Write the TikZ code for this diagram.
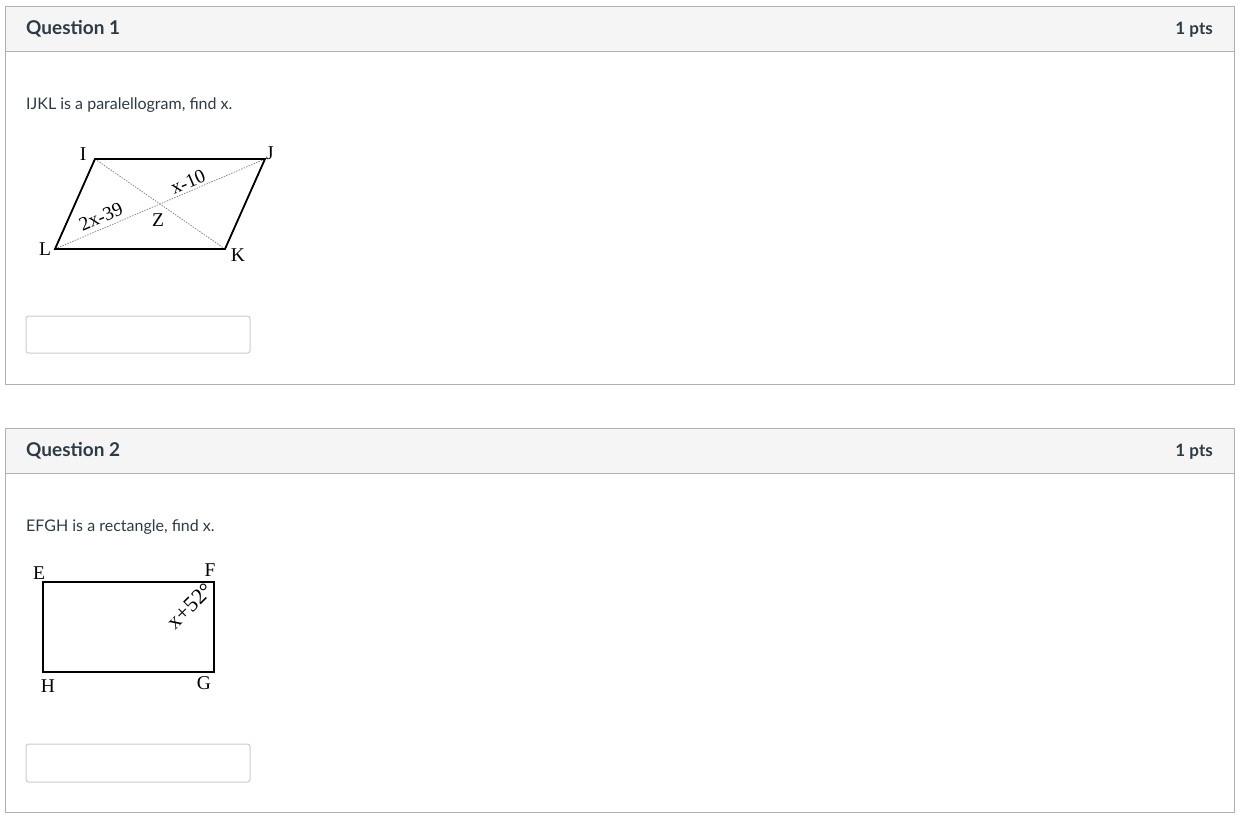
\documentclass[tikz,border=0pt]{standalone}
\usepackage{fontspec}
\setmainfont{Lato}
\newfontfamily\figfont{Liberation Serif}
\definecolor{framegray}{HTML}{B0B0B0}
\definecolor{hdrfill}{HTML}{F5F5F5}
\definecolor{inkdark}{HTML}{2D3B45}
\definecolor{boxgray}{HTML}{C7CDD1}
\tikzset{
  frame/.style={draw=framegray, line width=1pt},
  hdr/.style={fill=hdrfill},
  qtitle/.style={inner sep=0pt, font=\fontsize{19}{22}\selectfont\bfseries, text=inkdark},
  pts/.style={inner sep=0pt, font=\fontsize{17}{20}\selectfont\bfseries, text=inkdark},
  prompt/.style={inner sep=0pt, font=\fontsize{16}{19}\selectfont, text=inkdark},
  ansbox/.style={draw=boxgray, line width=1pt, rounded corners=2.5pt, fill=white},
  edge/.style={draw=black, line width=1.8pt, line join=miter},
  diag/.style={draw=gray, line width=0.7pt, dash pattern=on 1.5pt off 1.2pt},
  lbl/.style={inner sep=0pt, font=\figfont\fontsize{19.5}{22}\selectfont}
}
\begin{document}
\begin{tikzpicture}[x=1pt,y=-1pt]
\useasboundingbox (0,0) rectangle (1244,827);
% ---------- Question 1 frame ----------
\fill[white] (5,6) rectangle (1234,384);
\fill[hdr] (5,6) rectangle (1234,51);
\draw[frame] (5,51) -- (1234,51);
\draw[frame] (5,6) rectangle (1234,384);
\node[qtitle, anchor=base west] (q1title) at (26,34) {Question 1};
\node[pts, anchor=base east] (q1pts) at (1213,34) {1 pts};
\node[prompt, anchor=base west] (q1text) at (26,109) {IJKL is a paralellogram, find x.};
% parallelogram
\coordinate (I) at (95,159);
\coordinate (J) at (265,159);
\coordinate (K) at (225,249);
\coordinate (L) at (55,249);
\draw[diag] (I) -- (K);
\draw[diag] (L) -- (J);
\draw[edge] (I) -- (J) -- (K) -- (L) -- cycle;
\node[lbl] (labI) at (83,154) {I};
\node[lbl] (labJ) at (270,153) {J};
\node[lbl] (labK) at (238,255) {K};
\node[lbl] (labL) at (45,249) {L};
\node[lbl] (labZ) at (158,220) {Z};
\node[lbl, rotate=23.2] (lab2x) at (101,217) {2x-39};
\node[lbl, rotate=23.2] (labx10) at (188,182) {x-10};
\draw[ansbox] (26,316) rectangle (250,353);
% ---------- Question 2 frame ----------
\fill[white] (5,428) rectangle (1234,812);
\fill[hdr] (5,428) rectangle (1234,473);
\draw[frame] (5,473) -- (1234,473);
\draw[frame] (5,428) rectangle (1234,812);
\node[qtitle, anchor=base west] (q2title) at (26,456) {Question 2};
\node[pts, anchor=base east] (q2pts) at (1213,456) {1 pts};
\node[prompt, anchor=base west] (q2text) at (26,531) {EFGH is a rectangle, find x.};
% rectangle
\coordinate (E) at (43,582);
\coordinate (F) at (214,582);
\coordinate (G) at (214,672);
\coordinate (H) at (43,672);
\draw[edge, line width=1.5pt] (E) -- (F) -- (G) -- (H) -- cycle;
\node[lbl] (labE) at (39,573) {E};
\node[lbl] (labF) at (210,570) {F};
\node[lbl] (labG) at (204,683) {G};
\node[lbl] (labH) at (48,686) {H};
\node[lbl, font=\figfont\fontsize{22}{24}\selectfont, rotate=45] (labang) at (190,606) {x+52\textdegree};
\draw[ansbox] (26,744) rectangle (250,782);
\end{tikzpicture}
\end{document}
